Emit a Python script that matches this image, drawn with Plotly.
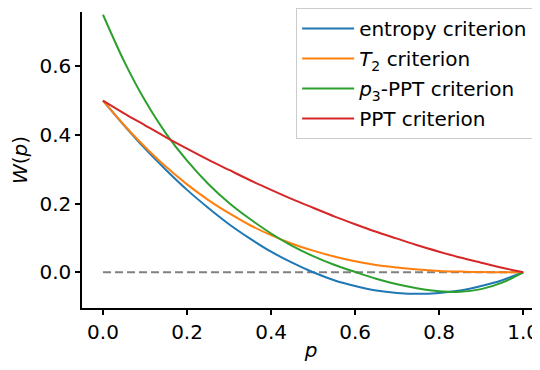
import plotly.graph_objects as go

p_values = [0.0, 0.05, 0.10, 0.15, 0.20, 0.25, 0.30, 0.35, 0.40, 0.45, 0.50,
            0.55, 0.60, 0.65, 0.70, 0.75, 0.80, 0.85, 0.90, 0.95, 1.0]

entropy_w = [0.500, 0.428, 0.360, 0.298, 0.240, 0.188, 0.140, 0.098, 0.060, 0.028, 0.000,
             -0.023, -0.040, -0.053, -0.060, -0.0625, -0.060, -0.053, -0.040, -0.023, 0.000]

t2_w = [0.500, 0.429, 0.365, 0.307, 0.256, 0.211, 0.172, 0.137, 0.108, 0.083, 0.063,
        0.046, 0.032, 0.021, 0.014, 0.008, 0.004, 0.002, 0.0005, 0.0001, 0.000]

p3ppt_w = [0.750, 0.615, 0.500, 0.404, 0.325, 0.258, 0.202, 0.155, 0.113, 0.077, 0.047,
           0.022, 0.001, -0.019, -0.035, -0.047, -0.055, -0.057, -0.049, -0.030, 0.000]

ppt_w = [0.500, 0.463, 0.428, 0.393, 0.360, 0.328, 0.298, 0.268, 0.240, 0.213, 0.188,
         0.163, 0.140, 0.118, 0.098, 0.078, 0.060, 0.043, 0.028, 0.013, 0.000]

baseline_p = [0.0, 1.0]
baseline_w = [0.0, 0.0]

series = [
    ("entropy criterion", entropy_w, "#1f77b4"),
    ("<i>T</i><sub>2</sub> criterion", t2_w, "#ff7f0e"),
    ("<i>p</i><sub>3</sub>-PPT criterion", p3ppt_w, "#2ca02c"),
    ("PPT criterion", ppt_w, "#d62728"),
]

FS = 20

fig = go.Figure()
fig.add_trace(go.Scatter(x=baseline_p, y=baseline_w, mode="lines",
                         line=dict(color="#808080", width=2, dash="8px,4px"),
                         showlegend=False, hoverinfo="skip"))
for i, (name, vals, color) in enumerate(series):
    fig.add_trace(go.Scatter(x=p_values, y=vals, mode="lines", name=name,
                             legendgroup=f"g{i}",
                             line=dict(color=color, width=2, shape="spline", smoothing=0.8)))

axis_common = dict(showgrid=False, zeroline=False, showline=True, linecolor="black",
                   linewidth=1.5, ticks="outside", ticklen=5, tickwidth=1.5,
                   tickcolor="black", tickfont=dict(size=FS, color="black"),
                   mirror=False, automargin=False, ticklabeloverflow="allow")

# The page body adds an 8px margin, so the figure is sized to the rest of the window.
fig.update_layout(
    width=532, height=354,
    margin=dict(l=74, r=0, t=0, b=54),
    paper_bgcolor="white", plot_bgcolor="white",
    font=dict(family="DejaVu Sans", size=FS, color="black"),
    xaxis=dict(range=[-0.05, 1.04], tickvals=[0, 0.2, 0.4, 0.6, 0.8, 1.0],
               tickformat=".1f",
               title=dict(text="<i>p</i>", standoff=0, font=dict(size=FS)),
               **axis_common),
    yaxis=dict(range=[-0.104, 0.758], tickvals=[0, 0.2, 0.4, 0.6],
               tickformat=".1f",
               title=dict(text="<i>W</i>(<i>p</i>)", standoff=8, font=dict(size=FS)),
               **axis_common),
    legend=dict(x=0.985, y=1.015, xanchor="right", yanchor="top",
                bgcolor="rgba(255,255,255,0.8)", bordercolor="#cccccc", borderwidth=1,
                font=dict(size=FS), tracegroupgap=1, itemwidth=52),
    showlegend=True,
)

fig.write_html("out.html")
